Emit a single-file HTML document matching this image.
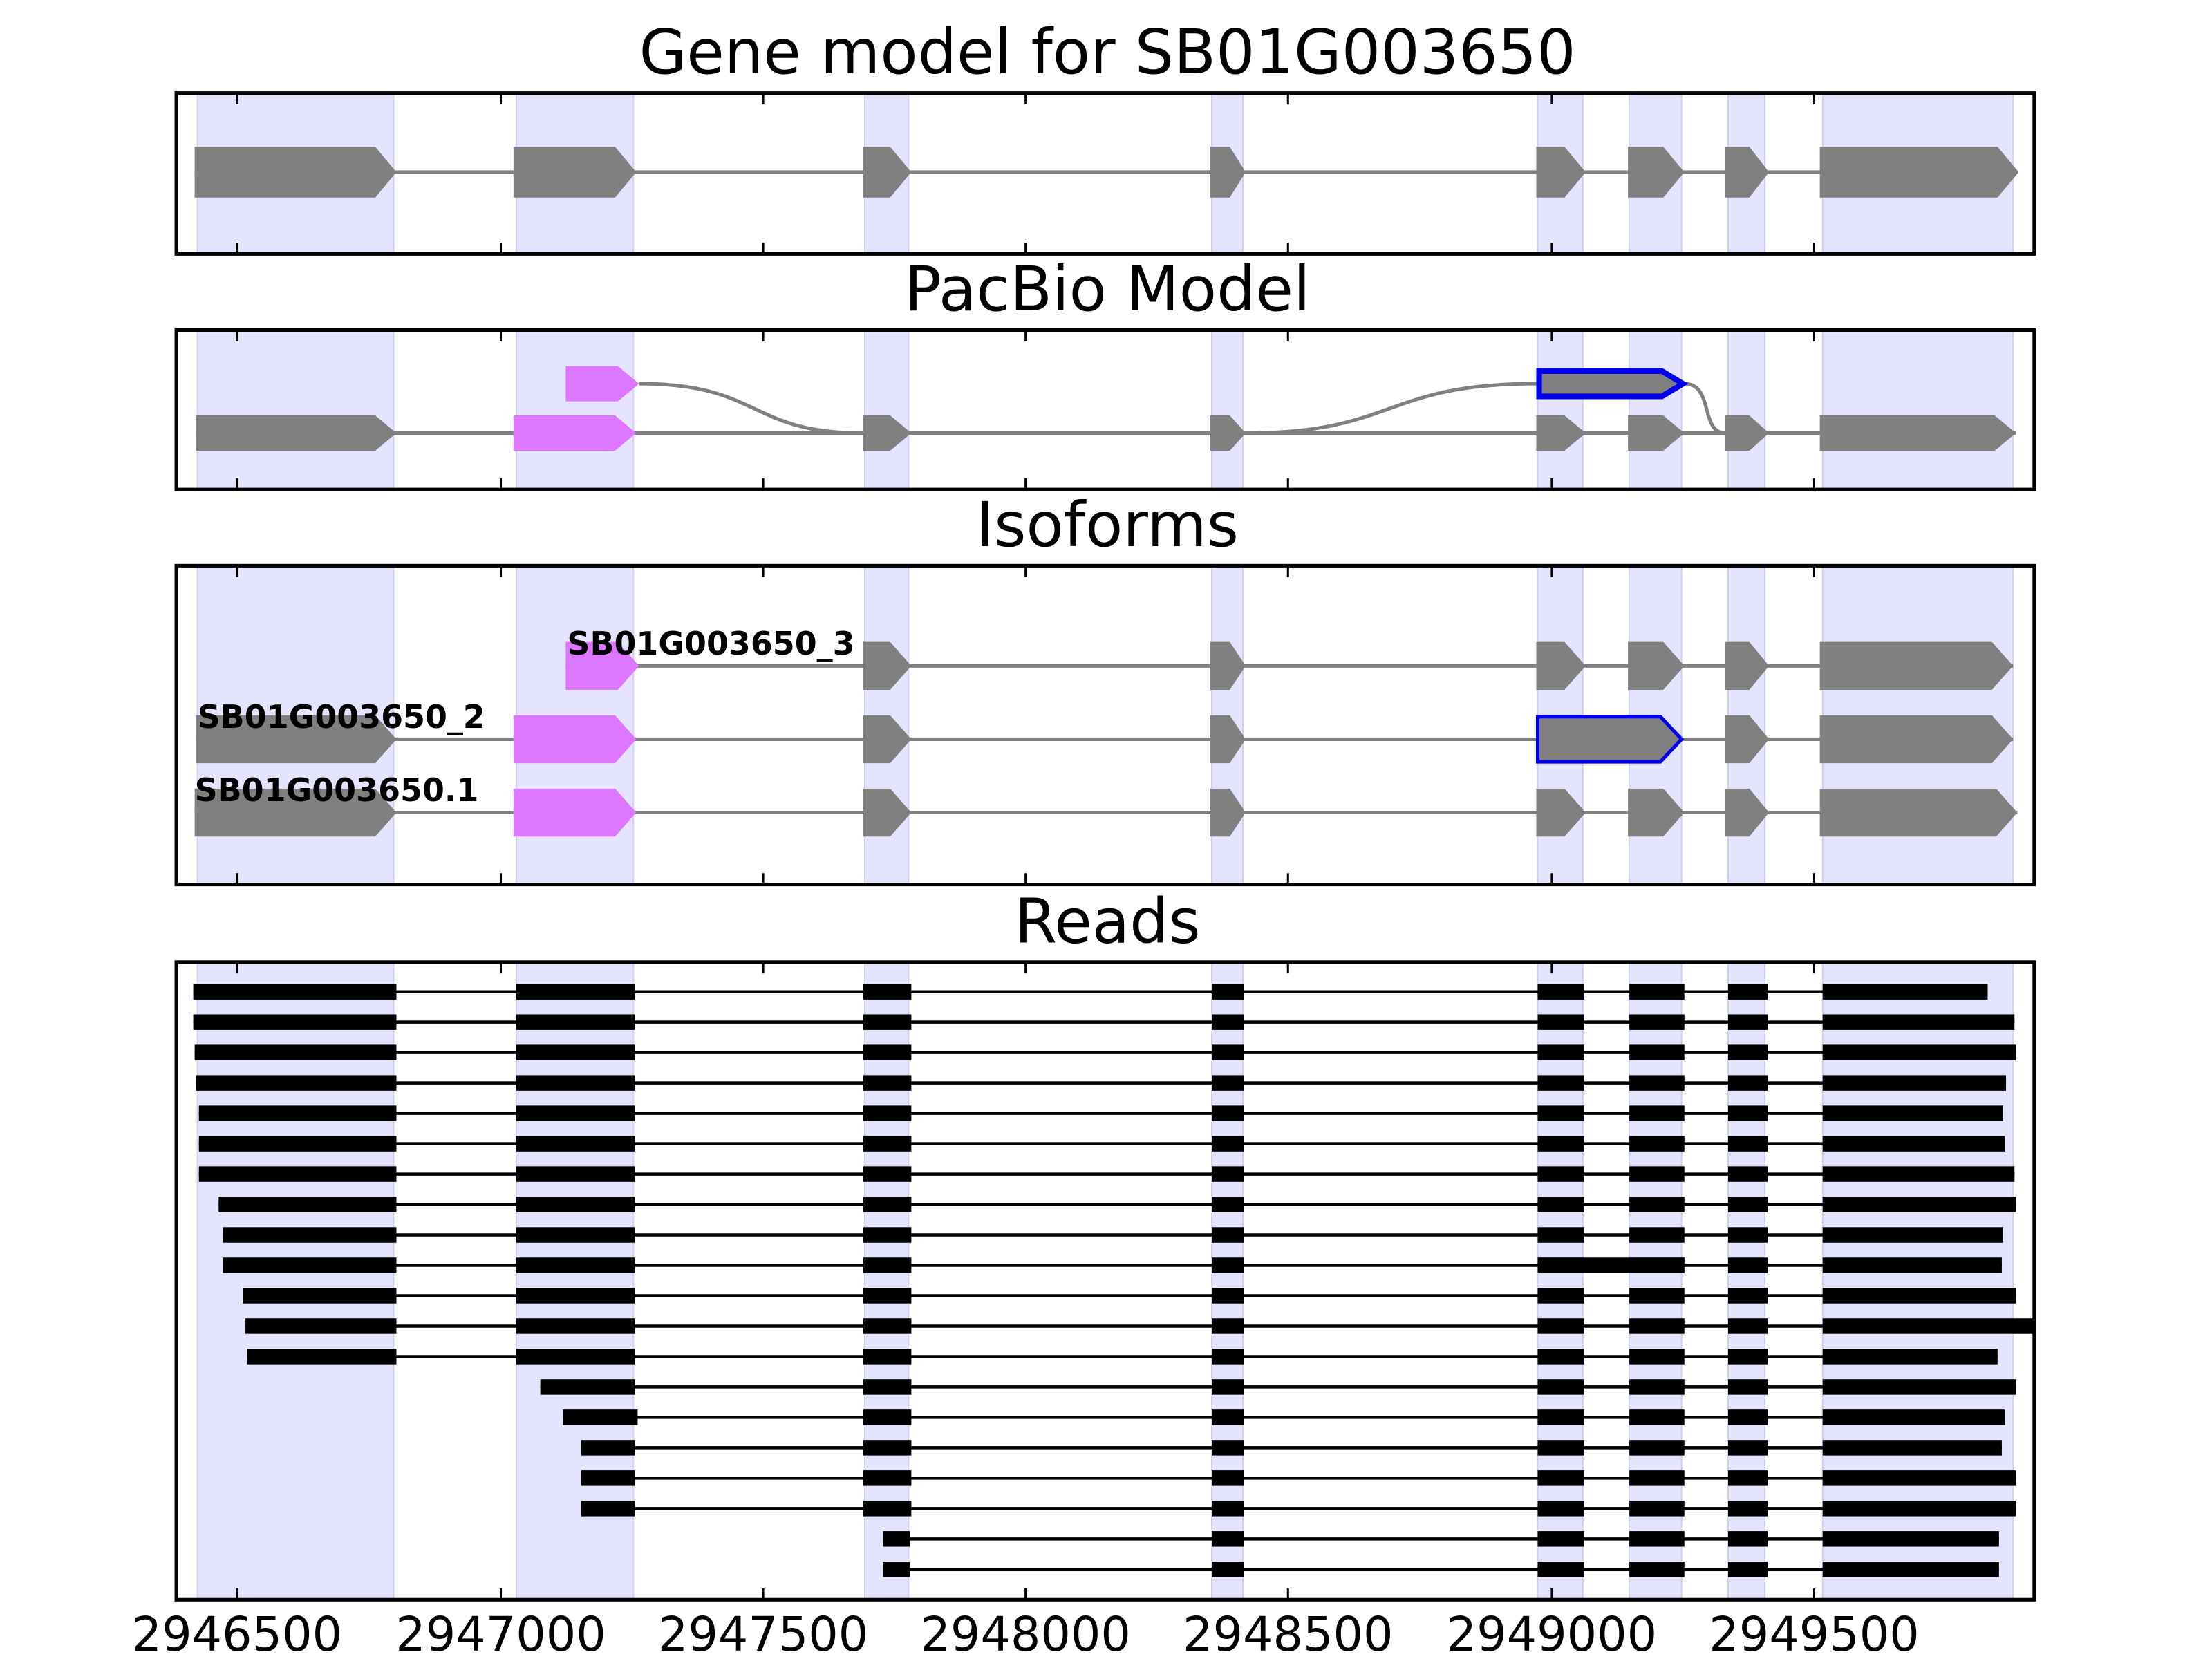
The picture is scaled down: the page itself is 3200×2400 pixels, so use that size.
<!DOCTYPE html>
<html><head><meta charset="utf-8"><style>
html,body{margin:0;padding:0;background:#fff;width:3200px;height:2400px;overflow:hidden;}
svg{display:block;}
text{font-family:"DejaVu Sans","Liberation Sans",sans-serif;}
</style></head><body>
<svg width="3200" height="2400" viewBox="0 0 1568 1176" xmlns="http://www.w3.org/2000/svg">
<defs>
<g id="shade">
<rect x="140" y="0" width="139" height="2000" fill="#e4e4ff" stroke="#d0d0f0"/>
<rect x="366" y="0" width="83" height="2000" fill="#e4e4ff" stroke="#d0d0f0"/>
<rect x="613" y="0" width="31" height="2000" fill="#e4e4ff" stroke="#d0d0f0"/>
<rect x="859" y="0" width="22" height="2000" fill="#e4e4ff" stroke="#d0d0f0"/>
<rect x="1090" y="0" width="32" height="2000" fill="#e4e4ff" stroke="#d0d0f0"/>
<rect x="1155" y="0" width="37" height="2000" fill="#e4e4ff" stroke="#d0d0f0"/>
<rect x="1225" y="0" width="26" height="2000" fill="#e4e4ff" stroke="#d0d0f0"/>
<rect x="1292" y="0" width="135" height="2000" fill="#e4e4ff" stroke="#d0d0f0"/>
</g>
<clipPath id="c1"><rect x="125" y="66" width="1317" height="114"/></clipPath>
<clipPath id="c2"><rect x="125" y="234" width="1317" height="113"/></clipPath>
<clipPath id="c3"><rect x="125" y="401" width="1317" height="226"/></clipPath>
<clipPath id="c4"><rect x="125" y="682" width="1317" height="452"/></clipPath>
</defs>
<g font-size="43.5" text-anchor="middle" fill="#000">
<text x="785" y="52">Gene model for SB01G003650</text>
<text x="785" y="220">PacBio Model</text>
<text x="785" y="387">Isoforms</text>
<text x="785" y="668">Reads</text>
</g>
<g clip-path="url(#c1)"><use href="#shade" y="0"/></g>
<g clip-path="url(#c2)"><use href="#shade" y="0"/></g>
<g clip-path="url(#c3)"><use href="#shade" y="0"/></g>
<g clip-path="url(#c4)"><use href="#shade" y="0"/></g>
<g id="p1">
<line x1="138" y1="122" x2="1430" y2="122" stroke="#808080" stroke-width="2.5"/>
</g>
<g id="content"></g>
<g id="boxes" fill="none" stroke="#000" stroke-width="2.5">
<rect x="125" y="66" width="1317" height="114"/>
<rect x="125" y="234" width="1317" height="113"/>
<rect x="125" y="401" width="1317" height="226"/>
<rect x="125" y="682" width="1317" height="452"/>
</g>
<g id="ticks" stroke="#000" stroke-width="1.5"></g>
<g font-size="33.5" text-anchor="middle">
<text x="168" y="1170">2946500</text>
<text x="355" y="1170">2947000</text>
<text x="541" y="1170">2947500</text>
<text x="727" y="1170">2948000</text>
<text x="913" y="1170">2948500</text>
<text x="1100" y="1170">2949000</text>
<text x="1286" y="1170">2949500</text>
</g>
<g font-size="22.5" font-weight="bold">
<text x="402" y="464">SB01G003650_3</text>
<text x="140" y="516">SB01G003650_2</text>
<text x="138" y="568">SB01G003650.1</text>
</g>
</svg>
<script>
(function(){
var NS="http://www.w3.org/2000/svg";
var c=document.getElementById("content"),tk=document.getElementById("ticks");
function el(n,a,p){var e=document.createElementNS(NS,n);for(var k in a)e.setAttribute(k,a[k]);(p||c).appendChild(e);return e;}
function arrow(x1,x2,y,h,fill,stroke,sw){var t=Math.min(15,(x2-x1)*0.45);var pts=[[x1,y-h/2],[x2-t,y-h/2],[x2,y],[x2-t,y+h/2],[x1,y+h/2]].map(function(p){return p.join(",")}).join(" ");el("polygon",{points:pts,fill:fill,stroke:stroke||"none","stroke-width":sw||0});}
function line(x1,x2,y,col,w){el("line",{x1:x1,y1:y,x2:x2,y2:y,stroke:col,"stroke-width":w});}
var G="#808080",P="#dd77ff";
var ex=[[138,281],[364,451],[612,646],[858,883],[1089,1124],[1154,1194],[1223,1254],[1290,1431]];
ex.forEach(function(e){arrow(e[0],e[1],122,36,G);});
line(139,1429,307,G,2.5);
el("path",{d:"M453,272 C540,272 530,307 612,307",fill:"none",stroke:G,"stroke-width":2.5});
el("path",{d:"M883,307 C990,307 980,272 1089,272",fill:"none",stroke:G,"stroke-width":2.5});
el("path",{d:"M1194,272 C1215,272 1205,307 1223,307",fill:"none",stroke:G,"stroke-width":2.5});
var e2=[[139,281,G],[364,451,P],[612,646,G],[858,883,G],[1089,1124,G],[1154,1194,G],[1223,1254,G],[1290,1429,G]];
e2.forEach(function(e){arrow(e[0],e[1],307,25,e[2]);});
arrow(401,453,272,25,P);
arrow(1091,1193,272,18,G,"#0000ee",4);
line(401,1427,472,G,2.5);
arrow(401,453,472,34,P);
[[612,646],[858,883],[1089,1124],[1154,1194],[1223,1254],[1290,1427]].forEach(function(e){arrow(e[0],e[1],472,34,G);});
line(139,1427,524,G,2.5);
[[139,281,G],[364,451,P],[612,646,G],[858,883,G],[1223,1254,G],[1290,1427,G]].forEach(function(e){arrow(e[0],e[1],524,34,e[2]);});
arrow(1090,1192,524,32,G,"#0000ee",2.5);
line(138,1430,576,G,2.5);
[[138,281,G],[364,451,P],[612,646,G],[858,883,G],[1089,1124,G],[1154,1194,G],[1223,1254,G],[1290,1430,G]].forEach(function(e){arrow(e[0],e[1],576,34,e[2]);});
var R=[[137,1409],[137,1428],[138,1429],[139,1422],[141,1420],[141,1421],[141,1428],[155,1429],[158,1420],[158,1419],[172,1429],[174,1442],[175,1416],[-383,1429],[-399,1421],[-412,1419],[-412,1429],[-412,1429],[-626,1417],[-626,1417]];
var mid=[[612,646],[859,882],[1090,1123],[1155,1194],[1225,1253]];
R.forEach(function(r,i){var y=703+i*21.55,s=r[0],en=r[1];
 var start=Math.abs(s);line(start,en,y,"#000",2.2);
 function b(a,z){el("rect",{x:a,y:y-5.5,width:z-a,height:11,fill:"#000"});}
 if(s>0){b(s,281);b(366,450);}
 else if(start<600){b(start,start==399?452:450);}
 else {b(626,645);}
 mid.forEach(function(m){if(m[0]>=start-1)b(m[0],m[1]);});
 if(i==9)b(1090,1194);
 b(1292,en);
});
[168,355,541,727,913,1100,1286].forEach(function(x){
 [[66,180],[234,347],[401,627],[682,1134]].forEach(function(p){
  el("line",{x1:x,y1:p[1],x2:x,y2:p[1]-8},tk);el("line",{x1:x,y1:p[0],x2:x,y2:p[0]+8},tk);});
});
})();
</script>
</body></html>
